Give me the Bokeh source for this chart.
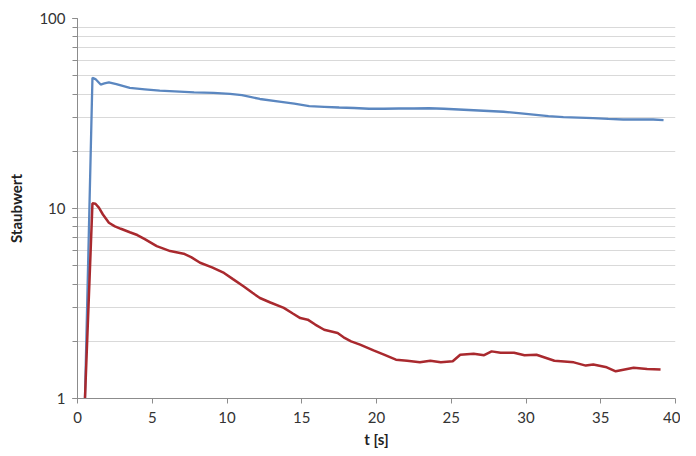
from bokeh.plotting import figure
from bokeh.models import Range1d, FixedTicker, LogTicker
from bokeh.embed import file_html
from bokeh.resources import INLINE

# Blue series (t [s], Staubwert)
t_blue = [0.5, 1.0, 1.2, 1.55, 1.8, 2.1, 2.6, 3.5, 4.5, 5.5, 6.5, 7.8, 9.1, 10.2, 11.0, 12.2,
          13.5, 14.5, 15.5, 16.5, 17.5, 18.5, 19.5, 20.5, 21.5, 22.5, 23.5, 24.5, 25.5,
          26.5, 27.5, 28.5, 29.5, 30.5, 31.5, 32.5, 33.5, 34.5, 35.5, 36.5, 37.5, 38.5, 39.2]
v_blue = [1.0, 48.7, 48.0, 44.9, 45.5, 46.1, 45.2, 43.1, 42.4, 41.7, 41.3, 40.8, 40.6, 40.1, 39.5, 37.7,
          36.5, 35.6, 34.6, 34.3, 34.0, 33.8, 33.5, 33.5, 33.6, 33.6, 33.7, 33.5, 33.2,
          32.9, 32.6, 32.3, 31.8, 31.2, 30.6, 30.3, 30.1, 29.9, 29.6, 29.4, 29.4, 29.4, 29.2]

# Red series (t [s], Staubwert)
t_red = [0.5, 1.0, 1.2, 1.43, 1.7, 2.1, 2.5, 2.9, 3.5, 4.0, 4.5, 5.3, 6.2, 7.1, 7.6, 8.2, 9.0, 9.8,
         10.4, 11.1, 11.7, 12.2, 12.9, 13.8, 14.4, 14.9, 15.4, 15.9, 16.5, 17.4, 17.8, 18.3, 18.9,
         19.8, 20.5, 21.3, 22.05, 22.9, 23.6, 24.3, 25.1, 25.6, 26.5, 27.2, 27.7, 28.3, 29.2, 29.9,
         30.7, 31.9, 33.2, 34.0, 34.5, 35.4, 36.0, 37.2, 38.1, 39.0]
v_red = [1.0, 10.65, 10.6, 10.1, 9.3, 8.41, 8.05, 7.82, 7.5, 7.25, 6.9, 6.34, 5.97, 5.78, 5.55, 5.18, 4.9, 4.58,
         4.25, 3.9, 3.6, 3.38, 3.2, 3.0, 2.8, 2.65, 2.6, 2.45, 2.3, 2.21, 2.1, 2.0, 1.92,
         1.79, 1.70, 1.60, 1.58, 1.55, 1.58, 1.55, 1.57, 1.70, 1.72, 1.69, 1.77, 1.74, 1.74, 1.69,
         1.70, 1.58, 1.55, 1.49, 1.51, 1.46, 1.39, 1.45, 1.43, 1.42]

x_ticks = [0, 5, 10, 15, 20, 25, 30, 35, 40]

p = figure(width=680, height=450, output_backend="svg", toolbar_location=None,
           y_axis_type="log", x_range=Range1d(0, 40), y_range=Range1d(1, 100),
           min_border_left=77, min_border_right=5, min_border_top=18, min_border_bottom=52)
p.outline_line_color = None
p.background_fill_color = "white"
p.border_fill_color = "white"

p.line(t_blue, v_blue, line_color="#5b87c0", line_width=2.3)
p.line(t_red, v_red, line_color="#a9292e", line_width=2.5)

font = "Lato"
p.xaxis.ticker = FixedTicker(ticks=x_ticks)
p.yaxis.ticker = LogTicker(num_minor_ticks=10)
p.yaxis.major_label_overrides = {1: "1", 10: "10", 100: "100"}

for ax in (p.xaxis[0], p.yaxis[0]):
    ax.axis_line_color = "#8c8c8c"
    ax.major_tick_line_color = "#8c8c8c"
    ax.minor_tick_line_color = "#8c8c8c"
    ax.major_tick_in = 0
    ax.major_tick_out = 5
    ax.minor_tick_in = 0
    ax.minor_tick_out = 5
    ax.major_label_text_font = font
    ax.major_label_text_font_size = "15px"
    ax.major_label_text_color = "#333333"
    ax.axis_label_text_font = font
    ax.axis_label_text_font_style = "bold"
    ax.axis_label_text_font_size = "15px"
    ax.axis_label_text_color = "#222222"
p.xaxis.minor_tick_line_color = None
p.xaxis.axis_label = "t [s]"
p.yaxis.axis_label = "Staubwert"
p.xaxis.major_label_standoff = 8
p.yaxis.major_label_standoff = 7
p.xaxis.axis_label_standoff = 4
p.yaxis.axis_label_standoff = 11

p.xgrid.grid_line_color = None
p.ygrid.grid_line_color = "#d4d4d4"
p.ygrid.minor_grid_line_color = "#d9d9d9"
p.ygrid.grid_line_width = 1

open("out.html", "w").write(file_html(p, INLINE))
